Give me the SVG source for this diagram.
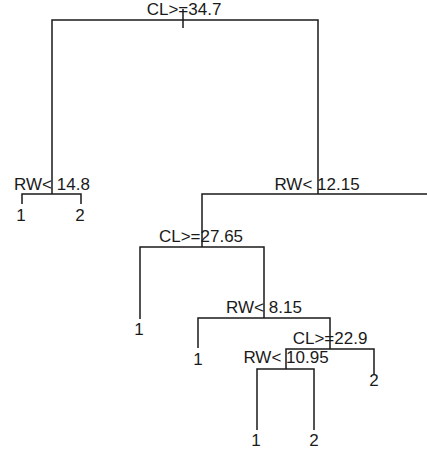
<svg xmlns="http://www.w3.org/2000/svg" width="427" height="451" viewBox="0 0 427 451">
<style>
.e{fill:none;stroke:#1a1a1a;stroke-width:1.5}
text{font-family:"Liberation Sans",Arial,sans-serif;font-size:17px;fill:#1a1a1a;text-anchor:middle}
</style>
<rect width="427" height="451" fill="#fff"/>
<g id="connectors">
<path class="e" d="M183 9V28"/>
<path class="e" d="M52 194V20H318V194"/>
<path class="e" d="M22 204V194H81V204"/>
<path class="e" d="M202 247V194H427"/>
<path class="e" d="M140 319V247H264V318"/>
<path class="e" d="M198 348V318H330V349"/>
<path class="e" d="M286 369V349H374V375"/>
<path class="e" d="M257 430V369H314V430"/>
</g>
<g id="n-root"><text x="184" y="15">CL&gt;=34.7</text></g>
<g id="n-rw148"><text x="52" y="190">RW&lt; 14.8</text></g>
<g id="leaf-a1"><text x="21" y="221">1</text></g>
<g id="leaf-a2"><text x="80" y="221">2</text></g>
<g id="n-rw1215"><text x="317" y="190">RW&lt; 12.15</text></g>
<g id="n-cl2765"><text x="201" y="242">CL&gt;=27.65</text></g>
<g id="leaf-b1"><text x="139" y="335">1</text></g>
<g id="n-rw815"><text x="264" y="313">RW&lt; 8.15</text></g>
<g id="leaf-c1"><text x="198" y="365">1</text></g>
<g id="n-cl229"><text x="330" y="344">CL&gt;=22.9</text></g>
<g id="leaf-d2"><text x="374" y="386">2</text></g>
<g id="n-rw1095"><text x="286" y="363">RW&lt; 10.95</text></g>
<g id="leaf-e1"><text x="256" y="446">1</text></g>
<g id="leaf-e2"><text x="314" y="446">2</text></g>
</svg>
